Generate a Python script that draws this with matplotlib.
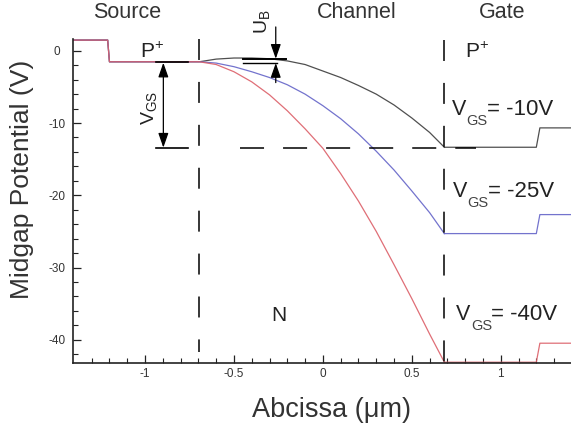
import matplotlib
matplotlib.use("Agg")
import matplotlib.pyplot as plt
from matplotlib.patches import ArrowStyle

plt.rcParams['font.family'] = ['Liberation Sans', 'DejaVu Sans']
plt.rcParams['mathtext.fontset'] = 'custom'
plt.rcParams['mathtext.rm'] = 'Liberation Sans'
plt.rcParams['mathtext.it'] = 'Liberation Sans'
plt.rcParams['axes.unicode_minus'] = False
plt.rcParams['lines.scale_dashes'] = False

# ---- data ----
x_src = [-1.405, -1.21, -1.20, -0.695]
y_src = [1.48, 1.48, -1.52, -1.52]

x_ch = [-0.695, -0.6, -0.5, -0.4, -0.3, -0.2, -0.1, 0.0, 0.1, 0.2, 0.3, 0.4, 0.5, 0.6, 0.683]
black_ch = [-1.52, -1.15, -1.0, -1.0, -1.1, -1.4, -1.9, -2.8, -3.7, -4.8, -6.0, -7.5, -9.3, -11.3, -13.35]
blue_ch = [-1.52, -1.7, -2.2, -2.9, -3.7, -4.7, -6.0, -7.6, -9.4, -11.5, -13.9, -16.5, -19.4, -22.4, -25.3]
red_ch = [-1.52, -1.9, -2.9, -4.3, -6.1, -8.3, -10.8, -13.5, -17.0, -20.8, -25.0, -29.6, -34.3, -39.2, -43.1]

x_gate = [0.683, 1.20, 1.22, 1.395]
black_gate = [-13.35, -13.35, -10.67, -10.67]
blue_gate = [-25.3, -25.3, -22.67, -22.67]
red_gate = [-43.1, -43.1, -40.47, -40.47]

vgs_labels = ["-10V", "-25V", "-40V"]
xticks = [-1, -0.5, 0, 0.5, 1]
xticklabels = ["-1", "-0.5", "0", "0.5", "1"]
yticks = [0, -10, -20, -30, -40]
yticklabels = ["0", "-10", "-20", "-30", "-40"]

c_black = '#3c3c3c'
c_blue = '#6464c8'
c_red = '#dc5f68'
c_text = '#222222'

fig = plt.figure(figsize=(5.71, 4.32), dpi=100)
ax = fig.add_axes([73/571, 69/432, 498/571, 363/432])
ax.set_xlim(-1.405, 1.395)
ax.set_ylim(-43.21, 7.03)

for col, ych, yg in [(c_black, black_ch, black_gate), (c_blue, blue_ch, blue_gate), (c_red, red_ch, red_gate)]:
    ax.plot(x_src + x_ch[1:], y_src + ych[1:], color=col, lw=0.9, alpha=0.9, zorder=2)
    ax.plot(x_gate, yg, color=col, lw=0.9, alpha=0.9, zorder=2)

# dashed region boundaries
ax.plot([-0.695, -0.695], [1.62, -41.75], color='black', lw=1.1, dashes=(15.1, 15.8))
ax.plot([0.683, 0.683], [1.55, -43.2], color='black', lw=1.1, dashes=(15.1, 15.8))
ax.plot([-0.465, 0.86], [-13.42, -13.42], color='black', lw=1.1, dashes=(17.3, 13.7))

# V_GS marker
ax.plot([-0.94, -0.76], [-1.55, -1.55], color='black', lw=1.2)
ax.plot([-0.94, -0.76], [-13.45, -13.45], color='black', lw=1.2)
ast = ArrowStyle('<|-|>', head_length=0.8, head_width=0.28)
ax.annotate('', xy=(-0.897, -13.4), xytext=(-0.897, -1.65),
            arrowprops=dict(arrowstyle=ast, color='black', lw=0.9, shrinkA=0, shrinkB=0, mutation_scale=11))
ax.text(-0.975, -7.9, r'V$_{\mathrm{GS}}$', rotation=90, ha='center', va='center', fontsize=14, color=c_text)

# u_B marker
ax.plot([-0.447, -0.21], [-1.1, -1.1], color='black', lw=1.4)
ax.plot([-0.447, -0.26], [-1.7, -1.7], color='black', lw=1.0)
ast1 = ArrowStyle('-|>', head_length=0.8, head_width=0.28)
ax.annotate('', xy=(-0.265, -1.1), xytext=(-0.265, 3.3),
            arrowprops=dict(arrowstyle=ast1, color='black', lw=0.9, shrinkA=0, shrinkB=0, mutation_scale=11),
            annotation_clip=False)
ax.annotate('', xy=(-0.265, -1.7), xytext=(-0.265, -4.4),
            arrowprops=dict(arrowstyle=ast1, color='black', lw=0.9, shrinkA=0, shrinkB=0, mutation_scale=11))
ax.text(-0.34, 4.0, r'U$_{\mathrm{B}}$', rotation=90, ha='center', va='center', fontsize=14, color=c_text)

# region labels
ax.text(-1.028, -1.0, r'P$^{+}$', fontsize=15, color=c_text, ha='left', va='baseline')
ax.text(0.80, -1.0, r'P$^{+}$', fontsize=15, color=c_text, ha='left', va='baseline')
ax.text(-0.249, -36.6, 'N', fontsize=15, color=c_text, ha='center', va='center')

vgs_pos = [(0.726, -8.91), (0.732, -20.28), (0.75, -37.3)]
for lab, (xx, yy) in zip(vgs_labels, vgs_pos):
    ax.text(xx, yy, 'V', fontsize=15.5, color=c_text, ha='left', va='baseline')
    ax.annotate('GS', xy=(xx, yy), xytext=(10.5, -7.0), textcoords='offset points',
                fontsize=10.5, color='#444', ha='left', va='baseline')
    ax.annotate('= ' + lab, xy=(xx, yy), xytext=(25.0, 0), textcoords='offset points',
                fontsize=16, color=c_text, ha='left', va='baseline')

fig.text(127/571, 1-12/432, 'Source', fontsize=15.5, color='#333', ha='center', va='center')
fig.text(357/571, 1-12/432, 'Channel', fontsize=15.5, color='#333', ha='center', va='center')
fig.text(502/571, 1-12/432, 'Gate', fontsize=15.5, color='#333', ha='center', va='center')

fig.text(332/571, 1-410/432, 'Abcissa (μm)', fontsize=19.5, color='#333', ha='center', va='center')
fig.text(22/571, 1-179/432, 'Midgap Potential (V)', fontsize=19, color='#333', ha='center', va='center', rotation=90)

# axes styling
for s in ['top', 'right']:
    ax.spines[s].set_visible(False)
ax.spines['left'].set_bounds(-43.21, 1.62)
for s in ['left', 'bottom']:
    ax.spines[s].set_linewidth(1.2)
    ax.spines[s].set_color('#222')

ax.set_xticks(xticks)
ax.set_xticklabels(xticklabels)
ax.set_xticks([v/10 for v in range(-13, 14) if v % 5 != 0], minor=True)
ax.set_yticks(yticks)
ax.set_yticklabels(yticklabels)
ax.set_yticks([v for v in range(-42, 0, 2) if v % 10 != 0], minor=True)
ax.tick_params(which='both', direction='in', color='#222', labelcolor='#333', labelsize=8.5)
ax.tick_params(which='major', length=5.8, width=0.9)
ax.tick_params(which='minor', length=3.4, width=0.8)
ax.tick_params(axis='x', pad=3.5)
ax.tick_params(axis='y', pad=11.5)
for lb in ax.get_yticklabels():
    lb.set_horizontalalignment('center')

fig.savefig('out.png', dpi=100)
